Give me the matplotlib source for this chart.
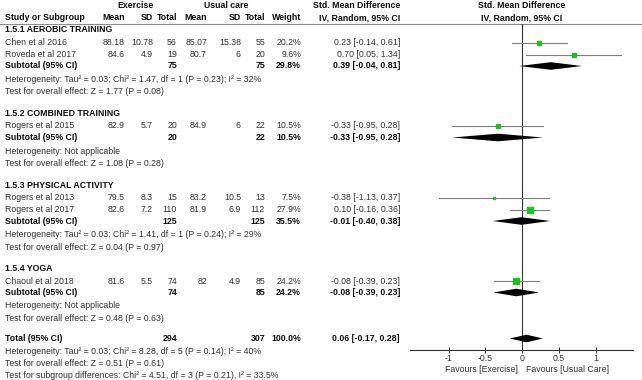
import matplotlib
matplotlib.use("Agg")
import matplotlib.pyplot as plt

plt.rcParams['font.family'] = ['Liberation Sans', 'DejaVu Sans']

# ---------------- data ----------------
groups = ["1.5.1 AEROBIC TRAINING", "1.5.2 COMBINED TRAINING",
          "1.5.3 PHYSICAL ACTIVITY", "1.5.4 YOGA"]
study_group = [0, 0, 1, 2, 2, 3]
studies = ["Chen et al 2016", "Roveda et al 2017", "Rogers et al 2015",
           "Rogers et al 2013", "Rogers et al 2017", "Chaoul et al 2018"]
ex_mean = [88.18, 84.6, 82.9, 79.5, 82.6, 81.6]
ex_sd = [10.78, 4.9, 5.7, 8.3, 7.2, 5.5]
ex_n = [56, 19, 20, 15, 110, 74]
uc_mean = [85.07, 80.7, 84.9, 83.2, 81.9, 82]
uc_sd = [15.38, 6, 6, 10.5, 6.9, 4.9]
uc_n = [55, 20, 22, 13, 112, 85]
weight = [20.2, 9.6, 10.5, 7.5, 27.9, 24.2]
smd = [0.23, 0.70, -0.33, -0.38, 0.10, -0.08]
ci_lo = [-0.14, 0.05, -0.95, -1.13, -0.16, -0.39]
ci_hi = [0.61, 1.34, 0.28, 0.37, 0.36, 0.23]

sub_ex_n = [75, 20, 125, 74]
sub_uc_n = [75, 22, 125, 85]
sub_weight = [29.8, 10.5, 35.5, 24.2]
sub_smd = [0.39, -0.33, -0.01, -0.08]
sub_lo = [-0.04, -0.95, -0.40, -0.39]
sub_hi = [0.81, 0.28, 0.38, 0.23]
sub_het = ["Heterogeneity: Tau\u00b2 = 0.03; Chi\u00b2 = 1.47, df = 1 (P = 0.23); I\u00b2 = 32%",
           "Heterogeneity: Not applicable",
           "Heterogeneity: Tau\u00b2 = 0.03; Chi\u00b2 = 1.41, df = 1 (P = 0.24); I\u00b2 = 29%",
           "Heterogeneity: Not applicable"]
sub_test = ["Test for overall effect: Z = 1.77 (P = 0.08)",
            "Test for overall effect: Z = 1.08 (P = 0.28)",
            "Test for overall effect: Z = 0.04 (P = 0.97)",
            "Test for overall effect: Z = 0.48 (P = 0.63)"]

tot_ex_n = 294
tot_uc_n = 307
tot_weight = 100.0
tot_smd = 0.06
tot_lo = -0.17
tot_hi = 0.28
tot_het = "Heterogeneity: Tau\u00b2 = 0.03; Chi\u00b2 = 8.28, df = 5 (P = 0.14); I\u00b2 = 40%"
tot_test = "Test for overall effect: Z = 0.51 (P = 0.61)"
subgroup_test = "Test for subgroup differences: Chi\u00b2 = 4.51, df = 3 (P = 0.21), I\u00b2 = 33.5%"

ticks = [-1, -0.5, 0, 0.5, 1]
tick_labels = ["-1", "-0.5", "0", "0.5", "1"]
fav_left = "Favours [Exercise]"
fav_right = "Favours [Usual Care]"

# ---------------- layout ----------------
W, H = 642, 380
fig = plt.figure(figsize=(W / 100, H / 100), dpi=100)
tax = fig.add_axes([0, 0, 1, 1])
tax.set_xlim(0, W)
tax.set_ylim(H, 0)
tax.axis('off')

FS = 6.3
NORM = '#333333'
BOLD = '#0d0d0d'

# column right edges (px)
X_STUDY = 5
X_EXM, X_EXSD, X_EXN = 125, 153, 177
X_UCM, X_UCSD, X_UCN = 207, 241, 265
X_W = 301
X_EFF = 400

header_line = 23.5
axis_y = 350
fx0, fx1 = 410, 633
xmin, xmax = -1.525, 1.505

fax = fig.add_axes([fx0 / W, (H - axis_y) / H, (fx1 - fx0) / W, (axis_y - header_line) / H])
fax.set_xlim(xmin, xmax)
fax.set_ylim(axis_y, header_line)
fax.patch.set_alpha(0)
for s in ['top', 'right', 'left']:
    fax.spines[s].set_visible(False)
fax.spines['bottom'].set_color('#333333')
fax.spines['bottom'].set_linewidth(0.8)
fax.set_yticks([])
fax.set_xticks(ticks)
fax.set_xticklabels(tick_labels, fontsize=FS, color=NORM)
fax.tick_params(axis='x', direction='inout', length=4, width=0.7, color='#333333', pad=1.2)
fax.axvline(0, color='#333333', lw=0.8, zorder=1)


def txt(x, y, s, ha='left', bold=False, **kw):
    tax.text(x, y, s, ha=ha, va='center', fontsize=FS,
             fontweight='bold' if bold else 'normal',
             color=BOLD if bold else NORM, **kw)


def fmt_eff(m, lo, hi):
    return f"{m:.2f} [{lo:.2f}, {hi:.2f}]"


def diamond(m, lo, hi, y, h=3.8):
    fax.fill([lo, m, hi, m], [y, y - h, y, y + h], color='black', lw=0, zorder=3)


# headers
txt(136, 6, "Exercise", ha='center', bold=True)
txt(226, 6, "Usual care", ha='center', bold=True)
txt(X_EFF, 6, "Std. Mean Difference", ha='right', bold=True)
txt(522, 6, "Std. Mean Difference", ha='center', bold=True)
txt(X_STUDY, 18, "Study or Subgroup", bold=True)
txt(X_EXM, 18, "Mean", ha='right', bold=True)
txt(X_EXSD, 18, "SD", ha='right', bold=True)
txt(X_EXN, 18, "Total", ha='right', bold=True)
txt(X_UCM, 18, "Mean", ha='right', bold=True)
txt(X_UCSD, 18, "SD", ha='right', bold=True)
txt(X_UCN, 18, "Total", ha='right', bold=True)
txt(X_W, 18, "Weight", ha='right', bold=True)
txt(X_EFF, 18, "IV, Random, 95% CI", ha='right', bold=True)
txt(522, 18, "IV, Random, 95% CI", ha='center', bold=True)
tax.plot([0, W], [header_line, header_line], color='#8a8a8a', lw=0.8)

# rows
y = 30.0
for g, gname in enumerate(groups):
    txt(X_STUDY, y, gname, bold=True)
    y += 12.5
    first = True
    for i, sname in enumerate(studies):
        if study_group[i] != g:
            continue
        if not first:
            y += 12
        first = False
        txt(X_STUDY, y, sname)
        txt(X_EXM, y, f"{ex_mean[i]:g}", ha='right')
        txt(X_EXSD, y, f"{ex_sd[i]:g}", ha='right')
        txt(X_EXN, y, f"{ex_n[i]}", ha='right')
        txt(X_UCM, y, f"{uc_mean[i]:g}", ha='right')
        txt(X_UCSD, y, f"{uc_sd[i]:g}", ha='right')
        txt(X_UCN, y, f"{uc_n[i]}", ha='right')
        txt(X_W, y, f"{weight[i]:.1f}%", ha='right')
        txt(X_EFF, y, fmt_eff(smd[i], ci_lo[i], ci_hi[i]), ha='right')
        fax.plot([ci_lo[i], ci_hi[i]], [y, y], color='#7f7f7f', lw=0.8, zorder=2)
        fax.plot([smd[i]], [y], marker='s', ms=0.75 * weight[i] ** 0.5,
                 color='#1fbf1f', mec='#1fbf1f', lw=0, zorder=4)
    y += 11.5
    txt(X_STUDY, y, "Subtotal (95% CI)", bold=True)
    txt(X_EXN, y, f"{sub_ex_n[g]}", ha='right', bold=True)
    txt(X_UCN, y, f"{sub_uc_n[g]}", ha='right', bold=True)
    txt(X_W, y, f"{sub_weight[g]:.1f}%", ha='right', bold=True)
    txt(X_EFF, y, fmt_eff(sub_smd[g], sub_lo[g], sub_hi[g]), ha='right', bold=True)
    diamond(sub_smd[g], sub_lo[g], sub_hi[g], y)
    y += 13.5
    txt(X_STUDY, y, sub_het[g])
    y += 12.5
    txt(X_STUDY, y, sub_test[g])
    y += 21.5 if g < len(groups) - 1 else 20

txt(X_STUDY, y, "Total (95% CI)", bold=True)
txt(X_EXN, y, f"{tot_ex_n}", ha='right', bold=True)
txt(X_UCN, y, f"{tot_uc_n}", ha='right', bold=True)
txt(X_W, y, f"{tot_weight:.1f}%", ha='right', bold=True)
txt(X_EFF, y, fmt_eff(tot_smd, tot_lo, tot_hi), ha='right', bold=True)
diamond(tot_smd, tot_lo, tot_hi, y)
y += 13.5
txt(X_STUDY, y, tot_het)
y += 12
txt(X_STUDY, y, tot_test)
txt(518, y + 5, fav_left, ha='right')
txt(526, y + 5, fav_right, ha='left')
y += 12
txt(X_STUDY, y, subgroup_test)

fig.savefig("out.png", dpi=100)
